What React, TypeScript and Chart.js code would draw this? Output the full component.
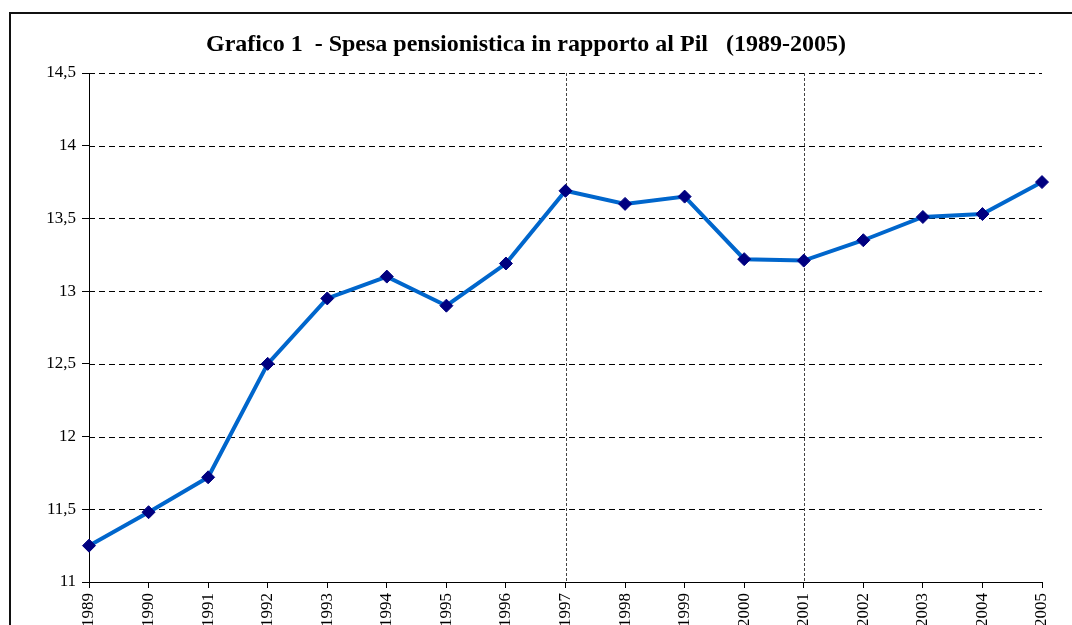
import React, { useEffect, useRef } from 'react';
import { Chart, registerables } from 'chart.js';

Chart.register(...registerables);

const years = ['1989', '1990', '1991', '1992', '1993', '1994', '1995', '1996', '1997', '1998', '1999', '2000', '2001', '2002', '2003', '2004', '2005'];
const spesaPil = [11.25, 11.48, 11.72, 12.5, 12.95, 13.1, 12.9, 13.19, 13.69, 13.6, 13.65, 13.22, 13.21, 13.35, 13.51, 13.53, 13.75];
const yMin = 11;
const yMax = 14.5;
const yStep = 0.5;
const markedYears = ['1997', '2001'];
const titleText = 'Grafico 1  - Spesa pensionistica in rapporto al Pil   (1989-2005)';

const SERIF = '"Liberation Serif", "Times New Roman", serif';
const CANVAS_W = 1072;
const CANVAS_H = 680;

const gridPlugin = {
  id: 'customGrid',
  beforeDatasetsDraw(chart: any) {
    const { ctx, chartArea, scales } = chart;
    const y = scales.y;
    const x = scales.x;
    ctx.save();
    ctx.strokeStyle = '#000';
    ctx.lineWidth = 1;
    ctx.setLineDash([6, 4]);
    y.ticks.forEach((t: any) => {
      if (t.value === yMin) return;
      const py = Math.round(y.getPixelForValue(t.value)) + 0.5;
      ctx.beginPath();
      ctx.moveTo(chartArea.left, py);
      ctx.lineTo(chartArea.right, py);
      ctx.stroke();
    });
    ctx.strokeStyle = '#444';
    ctx.setLineDash([3, 2]);
    markedYears.forEach((yr) => {
      const idx = years.indexOf(yr);
      const px = Math.round(x.getPixelForValue(idx)) + 0.5;
      ctx.beginPath();
      ctx.moveTo(px, chartArea.top);
      ctx.lineTo(px, chartArea.bottom);
      ctx.stroke();
    });
    ctx.restore();
  },
};

export default function App() {
  const canvasRef = useRef<HTMLCanvasElement | null>(null);

  useEffect(() => {
    if (!canvasRef.current) return;
    const chart = new Chart(canvasRef.current, {
      type: 'line',
      data: {
        labels: years,
        datasets: [
          {
            data: spesaPil,
            borderColor: '#0066CC',
            borderWidth: 4,
            tension: 0,
            fill: false,
            pointStyle: 'rectRot',
            pointRadius: 6.5,
            pointBackgroundColor: '#000080',
            pointBorderColor: '#000080',
            pointBorderWidth: 1,
            clip: false as any,
          },
        ],
      },
      options: {
        responsive: false,
        animation: false,
        devicePixelRatio: 1,
        layout: { padding: { left: 10, right: 30, top: 0, bottom: 0 } },
        plugins: {
          legend: { display: false },
          tooltip: { enabled: false },
          title: {
            display: true,
            text: titleText,
            color: '#000',
            font: { family: SERIF, size: 24, weight: 'bold', lineHeight: 1.2 },
            padding: { top: 30, bottom: 14.2 },
          },
        },
        scales: {
          x: {
            type: 'category',
            offset: false,
            afterFit: (scale: any) => {
              scale.height = CANVAS_H - 582;
            },
            grid: {
              drawOnChartArea: false,
              drawTicks: true,
              tickLength: 6,
              tickColor: '#000',
            },
            border: { display: true, color: '#000', width: 1 },
            ticks: {
              autoSkip: false,
              minRotation: 90,
              maxRotation: 90,
              padding: 5,
              color: '#000',
              font: { family: SERIF, size: 17 },
            },
          },
          y: {
            type: 'linear',
            min: yMin,
            max: yMax,
            afterFit: (scale: any) => {
              scale.width = 79;
            },
            grid: {
              drawOnChartArea: false,
              drawTicks: true,
              tickLength: 7,
              tickColor: '#000',
            },
            border: { display: true, color: '#000', width: 1 },
            ticks: {
              stepSize: yStep,
              padding: 6,
              color: '#000',
              font: { family: SERIF, size: 17 },
              callback: (v: any) => String(v).replace('.', ','),
            },
          },
        },
      },
      plugins: [gridPlugin],
    });
    return () => chart.destroy();
  }, []);

  return (
    <div
      style={{
        position: 'fixed',
        top: 0,
        left: 0,
        width: 1072,
        height: 625,
        overflow: 'hidden',
        background: '#fff',
      }}
    >
      <div
        style={{
          position: 'absolute',
          left: 9,
          top: 12,
          width: 1100,
          height: 700,
          border: '2px solid #111',
          boxSizing: 'border-box',
        }}
      />
      <canvas
        ref={canvasRef}
        width={CANVAS_W}
        height={CANVAS_H}
        style={{ position: 'absolute', left: 0, top: 0, width: CANVAS_W, height: CANVAS_H }}
      />
    </div>
  );
}
